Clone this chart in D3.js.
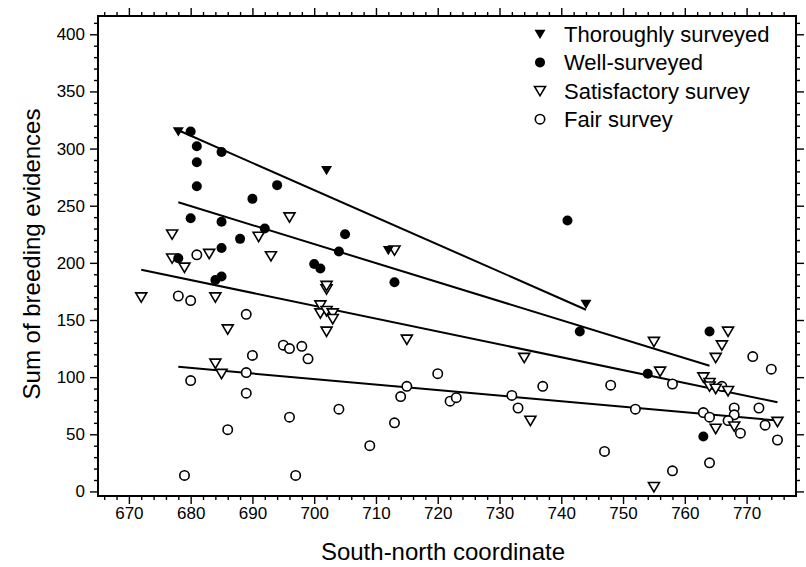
<!DOCTYPE html>
<html>
<head>
<meta charset="utf-8">
<script src="https://cdn.jsdelivr.net/npm/d3@7"></script>
<style>
  body { margin: 0; background: #fff; }
  svg { font-family: Arial, 'Liberation Sans', sans-serif; }
  .tick text { font-size: 17px; fill: #000; }
  .axis path.domain { display: none; }
  .axis line { stroke: #000; stroke-width: 1.4; }
</style>
</head>
<body>
<svg id="chart"></svg>
<script>
// south-north coordinate / sum of breeding evidences
const thorough = [[678, 315], [702, 281], [712, 211], [744, 164]]

const well = [
  [680, 315], [681, 302], [685, 297], [681, 288], [681, 267], [694, 268],
  [690, 256], [680, 239], [685, 236], [692, 230], [688, 221], [705, 225],
  [704, 210], [685, 213], [678, 204], [700, 199], [701, 195], [684, 185],
  [685, 188], [713, 183], [741, 237], [743, 140], [754, 103], [764, 140],
  [763, 48],
]

const satisfactory = [
  [677, 225], [696, 240], [691, 223], [683, 208], [677, 204], [693, 206],
  [679, 196], [702, 177], [702, 180], [672, 170], [684, 170], [686, 142],
  [701, 163], [701, 156], [702, 158], [703, 156], [703, 151], [702, 140],
  [684, 112], [685, 103], [713, 211], [715, 133], [734, 117], [735, 62],
  [755, 131], [756, 105], [755, 4], [767, 140], [766, 128], [765, 117],
  [763, 100], [764, 95], [764, 92], [765, 90], [767, 88], [765, 55],
  [768, 57], [775, 61],
]

const fair = [
  [681, 207], [678, 171], [680, 167], [689, 155], [695, 128], [696, 125],
  [698, 127], [699, 116], [690, 119], [689, 104], [680, 97], [689, 86],
  [704, 72], [696, 65], [686, 54], [679, 14], [697, 14], [720, 103],
  [715, 92], [714, 83], [713, 60], [709, 40], [722, 79], [723, 82],
  [732, 84], [733, 73], [737, 92], [748, 93], [752, 72], [747, 35],
  [758, 94], [758, 18], [771, 118], [774, 107], [766, 92], [768, 73],
  [768, 67], [767, 62], [772, 73], [773, 58], [769, 51], [763, 69],
  [764, 65], [775, 45], [764, 25],
]

// fitted lines, end points as drawn
const fitThorough = [[678, 316], [744, 159]]
const fitWell = [[678, 253], [764, 110]]
const fitSatisfactory = [[672, 194], [775, 78]]
const fitFair = [[678, 109], [775, 62]]

const legendLabels = ['Thoroughly surveyed', 'Well-surveyed', 'Satisfactory survey', 'Fair survey']

const xMajor = d3.range(670, 771, 10)
const xMinor = d3.range(666, 778, 2).filter((v) => v % 10 !== 0)
const yMajor = d3.range(0, 401, 50)
const yMinor = d3.range(0, 416, 10).filter((v) => v % 50 !== 0)

const W = 806, H = 567
const box = { left: 98, right: 796, top: 16, bottom: 496 }

const svg = d3.select('#chart').attr('width', W).attr('height', H)

const x = d3.scaleLinear().domain([665, 778]).range([box.left, box.right])
const y = d3.scaleLinear().domain([-4, 416]).range([box.bottom, box.top])

// axes on all four sides, ticks pointing out
function addAxis(axis, tx, ty) {
  svg.append('g').attr('class', 'axis').attr('transform', `translate(${tx},${ty})`).call(axis)
}
addAxis(d3.axisBottom(x).tickValues(xMajor).tickSize(8).tickPadding(3), 0, box.bottom)
addAxis(d3.axisBottom(x).tickValues(xMinor).tickSize(4).tickFormat(''), 0, box.bottom)
addAxis(d3.axisTop(x).tickValues(xMajor).tickSize(8).tickFormat(''), 0, box.top)
addAxis(d3.axisTop(x).tickValues(xMinor).tickSize(4).tickFormat(''), 0, box.top)
addAxis(d3.axisLeft(y).tickValues(yMajor).tickSize(8).tickPadding(5), box.left, 0)
addAxis(d3.axisLeft(y).tickValues(yMinor).tickSize(4).tickFormat(''), box.left, 0)
addAxis(d3.axisRight(y).tickValues(yMajor).tickSize(8).tickFormat(''), box.right, 0)
addAxis(d3.axisRight(y).tickValues(yMinor).tickSize(4).tickFormat(''), box.right, 0)

svg.append('rect')
  .attr('x', box.left).attr('y', box.top)
  .attr('width', box.right - box.left).attr('height', box.bottom - box.top)
  .attr('fill', 'none').attr('stroke', '#000').attr('stroke-width', 2)

// axis titles
svg.append('text')
  .attr('x', 443).attr('y', 560)
  .attr('text-anchor', 'middle').style('font-size', '24px')
  .text('South-north coordinate')
svg.append('text')
  .attr('transform', `translate(40,${(box.top + box.bottom) / 2 - 2}) rotate(-90)`)
  .attr('text-anchor', 'middle').style('font-size', '24px')
  .text('Sum of breeding evidences')

// regression lines
const line = d3.line().x((d) => x(d[0])).y((d) => y(d[1]))
for (let fit of [fitThorough, fitWell, fitSatisfactory, fitFair]) {
  svg.append('path').datum(fit).attr('d', line)
    .attr('fill', 'none').attr('stroke', '#000').attr('stroke-width', 2)
}

const tri = 'M-5.5,-4.3L5.5,-4.3L0,5Z'

function drawMarker(g, kind) {
  if (kind === 'thorough') g.append('path').attr('d', tri).attr('fill', '#000')
  else if (kind === 'well') g.append('circle').attr('r', 5).attr('fill', '#000')
  else if (kind === 'satisfactory')
    g.append('path').attr('d', tri).attr('fill', '#fff').attr('stroke', '#000').attr('stroke-width', 1.6)
  else g.append('circle').attr('r', 4.7).attr('fill', '#fff').attr('stroke', '#000').attr('stroke-width', 1.6)
}

const groups = [
  ['fair', fair],
  ['satisfactory', satisfactory],
  ['well', well],
  ['thorough', thorough],
]
for (let [kind, pts] of groups) {
  svg.append('g').selectAll('g').data(pts).enter().append('g')
    .attr('transform', (d) => `translate(${x(d[0])},${y(d[1])})`)
    .each(function () { drawMarker(d3.select(this), kind) })
}

// legend
const kinds = ['thorough', 'well', 'satisfactory', 'fair']
const legend = svg.append('g')
legendLabels.forEach((label, i) => {
  let row = legend.append('g').attr('transform', `translate(540,${34 + i * 28.4})`)
  drawMarker(row, kinds[i])
  row.append('text').attr('x', 24).attr('dy', '0.36em')
    .style('font-size', '22px').text(label)
})
</script>
</body>
</html>
